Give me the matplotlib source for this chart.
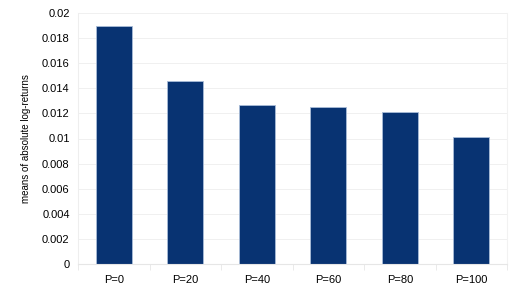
import matplotlib
matplotlib.use('Agg')
import matplotlib.pyplot as plt

plt.rcParams['font.family'] = ['Liberation Sans', 'DejaVu Sans']

labels = ['P=0', 'P=20', 'P=40', 'P=60', 'P=80', 'P=100']
means = [0.0190, 0.01455, 0.0127, 0.0125, 0.0121, 0.0101]

fig = plt.figure(figsize=(5.17, 2.9), dpi=100)
ax = fig.add_axes([78/517, 1 - 264/290, (507 - 78)/517, (264 - 13)/290])

ax.bar(range(len(labels)), means, width=0.5, color='#083372',
       edgecolor='#a9bcd8', linewidth=0.6, zorder=2)

ax.set_xlim(-0.5, len(labels) - 0.5)
ax.set_ylim(0, 0.02)
ax.set_yticks([i * 0.002 for i in range(11)])
ax.set_yticklabels(['0', '0.002', '0.004', '0.006', '0.008', '0.01',
                    '0.012', '0.014', '0.016', '0.018', '0.02'])
ax.set_xticks(range(len(labels)))
ax.set_xticklabels(labels)
# small separators between categories
ax.set_xticks([i - 0.5 for i in range(len(labels) + 1)], minor=True)
ax.set_ylabel('means of absolute log-returns', fontsize=7, labelpad=8)

ax.yaxis.grid(True, color='#eeeeee', linewidth=0.6, zorder=0)
ax.spines['top'].set_visible(False)
ax.spines['left'].set_color('#eeeeee')
ax.spines['bottom'].set_color('#e6e6e6')
ax.spines['right'].set_color('#f2f2f2')
ax.tick_params(axis='y', length=0, labelsize=8, pad=6)
ax.tick_params(axis='x', which='major', length=0, labelsize=8, pad=8)
ax.tick_params(axis='x', which='minor', length=4, color='#e6e6e6', width=0.6)

fig.savefig('out.png', dpi=100)
